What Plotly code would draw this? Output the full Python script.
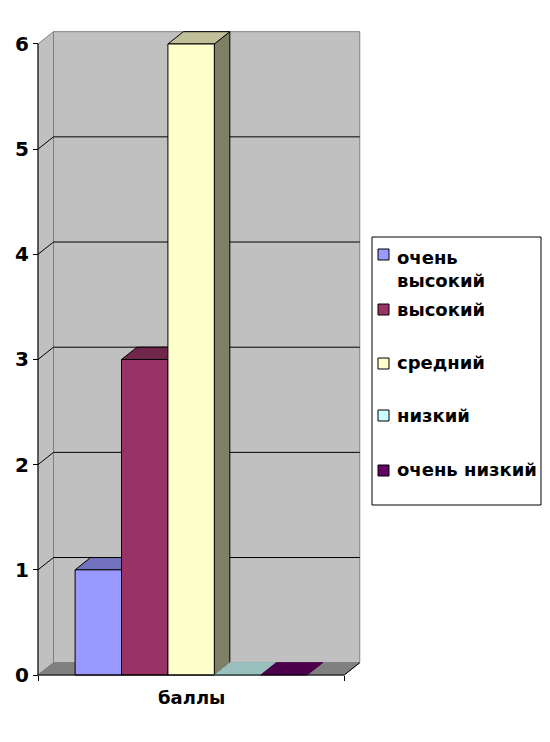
import plotly.graph_objects as go

# ---------------- data ----------------
categories = ["баллы"]
series_names = ["очень высокий", "высокий", "средний", "низкий", "очень низкий"]
legend_labels = ["очень<br>высокий", "высокий", "средний", "низкий", "очень низкий"]
series_values = [1, 3, 6, 0, 0]
series_colors = ["#9999FF", "#993366", "#FFFFCC", "#CCFFFF", "#660066"]
y_ticks = [0, 1, 2, 3, 4, 5, 6]

# ---------------- geometry / style ----------------
PAGE_MARGIN = 8      # browser default body margin
W, H = 550 - PAGE_MARGIN, 742 - PAGE_MARGIN
PX_X = 46.4          # pixels per bar unit
PX_Y = 105.17        # pixels per value unit


def P(px, py):
    """window pixel -> figure pixel"""
    return px - PAGE_MARGIN, py - PAGE_MARGIN


ORIGIN_PX = P(38, 675)            # front-left-bottom corner
PLOT_TL = P(33, 27)
PLOT_BR = P(370, 680)
SIDE_GAP = 0.8       # floor margin on each side (bar units)
DX = 15.5 / PX_X     # depth offset (x)
DY = 12.3 / PX_Y     # depth offset (y)
YMAX = max(y_ticks)
WALL = "#C0C0C0"
EDGE = "#808080"
FLOOR = "#808080"
FONT = "DejaVu Sans"

xmin = -SIDE_GAP - (ORIGIN_PX[0] - PLOT_TL[0]) / PX_X
xmax = xmin + (PLOT_BR[0] - PLOT_TL[0]) / PX_X
ymin = -(PLOT_BR[1] - ORIGIN_PX[1]) / PX_Y
ymax = ymin + (PLOT_BR[1] - PLOT_TL[1]) / PX_Y


def shade(hexcol, f):
    h = hexcol.lstrip("#")
    r, g, b = (int(h[i:i + 2], 16) for i in (0, 2, 4))
    return "#%02X%02X%02X" % (int(r * f), int(g * f), int(b * f))


def poly(xs, ys, fill, line=None, width=1):
    return go.Scatter(
        x=list(xs) + [xs[0]], y=list(ys) + [ys[0]], mode="lines", fill="toself",
        fillcolor=fill, line=dict(color=line if line else fill, width=width),
        hoverinfo="skip", showlegend=False)


def lines(xs, ys, color, width=1):
    return go.Scatter(x=xs, y=ys, mode="lines", line=dict(color=color, width=width),
                      hoverinfo="skip", showlegend=False)


n = len(series_values)
fx0, fx1 = -SIDE_GAP, n + SIDE_GAP
bx0, bx1 = fx0 + DX, fx1 + DX

fig = go.Figure()
# left wall
fig.add_trace(poly([fx0, bx0, bx0, fx0], [0, DY, YMAX + DY, YMAX], WALL, EDGE))
# back wall
fig.add_trace(poly([bx0, bx1, bx1, bx0], [DY, DY, YMAX + DY, YMAX + DY], WALL, EDGE))
# floor
fig.add_trace(poly([fx0, fx1, bx1, bx0], [0, 0, DY, DY], FLOOR, FLOOR))
# gridlines
gx, gy = [], []
for v in y_ticks[1:-1]:
    gx += [fx0, bx0, bx1, None]
    gy += [v, v + DY, v + DY, None]
fig.add_trace(lines(gx, gy, "black"))

# bars
for i, (v, c) in enumerate(zip(series_values, series_colors)):
    x0, x1 = i, i + 1
    top = shade(c, 0.75)
    side = shade(c, 0.5)
    if v > 0:
        fig.add_trace(poly([x1, x1 + DX, x1 + DX, x1], [0, DY, v + DY, v], side, "black"))
        fig.add_trace(poly([x0, x1, x1 + DX, x0 + DX], [v, v, v + DY, v + DY], top, "black"))
        fig.add_trace(poly([x0, x1, x1, x0], [0, 0, v, v], c, "black"))
    else:
        fig.add_trace(poly([x0, x1, x1 + DX, x0 + DX], [0, 0, DY, DY], top, top))

# front axis lines
fig.add_trace(lines([fx0, fx0, None, fx0, fx1, bx1], [0, YMAX, None, 0, 0, DY], "black"))

# category label
annotations = [dict(x=n / 2, y=0, xref="x", yref="y", text="<b>%s</b>" % categories[0],
                    showarrow=False, yanchor="middle", xanchor="center", yshift=-22,
                    font=dict(family=FONT, size=18, color="black"))]

# legend (drawn manually)
pw = PLOT_BR[0] - PLOT_TL[0]
ph = PLOT_BR[1] - PLOT_TL[1]


def px2paper(px, py):
    fx, fy = P(px, py)
    return (fx - PLOT_TL[0]) / pw, (PLOT_BR[1] - fy) / ph


shapes = []
lx0, ly0 = px2paper(372, 237)
lx1, ly1 = px2paper(541, 505)
shapes.append(dict(type="rect", xref="paper", yref="paper", x0=lx0, y0=ly1, x1=lx1, y1=ly0,
                   line=dict(color="black", width=1), fillcolor="white", layer="below"))
item_centers = [254.5, 309.5, 363.5, 415.5, 470.5]
text_centers = [268.5, 309.5, 362.5, 415.5, 469.5]
for lab, c, yc, yt in zip(legend_labels, series_colors, item_centers, text_centers):
    mx0, my0 = px2paper(378, yc - 5.5)
    mx1, my1 = px2paper(389, yc + 5.5)
    shapes.append(dict(type="rect", xref="paper", yref="paper", x0=mx0, y0=my1, x1=mx1, y1=my0,
                       line=dict(color="black", width=1), fillcolor=c, layer="above"))
    tx, ty = px2paper(395, yt)
    annotations.append(dict(x=tx, y=ty, xref="paper", yref="paper", text="<b>%s</b>" % lab,
                            showarrow=False, xanchor="left", yanchor="middle", align="left",
                            font=dict(family=FONT, size=18, color="black")))

fig.update_layout(
    width=W, height=H, autosize=False,
    margin=dict(l=PLOT_TL[0], r=W - PLOT_BR[0], t=PLOT_TL[1], b=H - PLOT_BR[1], pad=0),
    paper_bgcolor="white", plot_bgcolor="white", showlegend=False,
    xaxis=dict(range=[xmin, xmax], showgrid=False, zeroline=False, showline=False,
               tickvals=[fx0, fx1], ticktext=["", ""], ticks="outside", ticklen=5,
               tickcolor="black", tickwidth=1, anchor="free",
               position=(0 - ymin) / (ymax - ymin), automargin=False, fixedrange=True),
    yaxis=dict(range=[ymin, ymax], showgrid=False, zeroline=False, showline=False,
               tickvals=y_ticks, ticktext=[str(t) for t in y_ticks], ticks="outside",
               ticklen=5, tickcolor="black", tickwidth=1, anchor="free",
               position=(fx0 - xmin) / (xmax - xmin), automargin=False, fixedrange=True,
               tickfont=dict(family=FONT, size=20, color="black", weight="bold")),
    annotations=annotations, shapes=shapes,
)
fig.write_html("out.html")
